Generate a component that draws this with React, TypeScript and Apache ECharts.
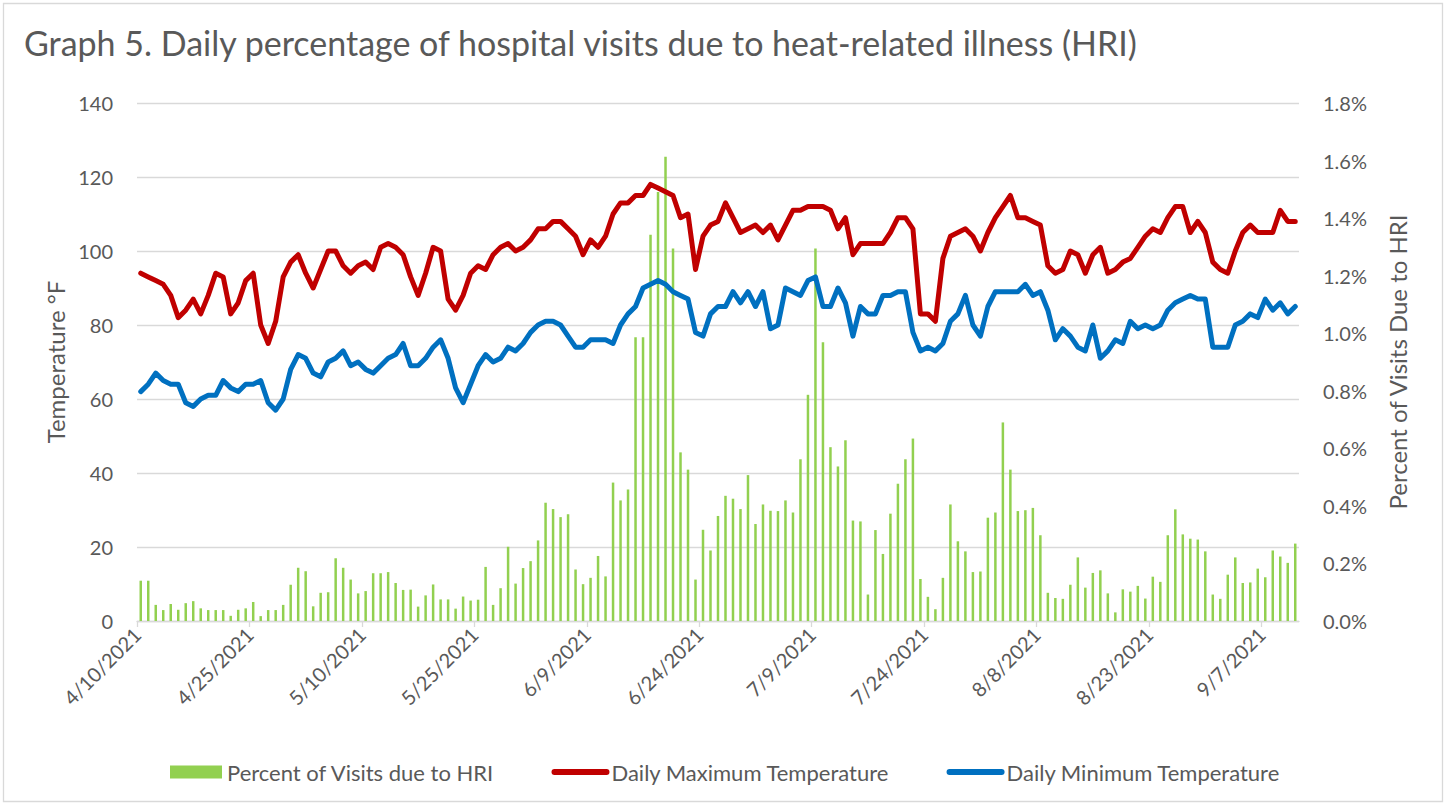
import React, { useEffect, useRef } from "react";
import * as echarts from "echarts";

const tickLabels = ["4/10/2021", "4/25/2021", "5/10/2021", "5/25/2021", "6/9/2021", "6/24/2021", "7/9/2021", "7/24/2021", "8/8/2021", "8/23/2021", "9/7/2021"];
const tickDays = [0, 15, 30, 45, 60, 75, 90, 105, 120, 135, 150];
const dayCount = 155;

const maxTemp = [
  94, 93, 92, 91, 88, 82, 84, 87, 83, 88, 94, 93, 83, 86, 92, 94, 80, 75, 81, 93,
  97, 99, 94, 90, 95, 100, 100, 96, 94, 96, 97, 95, 101, 102, 101, 99, 93, 88, 94, 101,
  100, 87, 84, 88, 94, 96, 95, 99, 101, 102, 100, 101, 103, 106, 106, 108, 108, 106, 104, 99,
  103, 101, 104, 110, 113, 113, 115, 115, 118, 117, 116, 115, 109, 110, 95, 104, 107, 108, 113, 109,
  105, 106, 107, 105, 107, 103, 107, 111, 111, 112, 112, 112, 111, 106, 109, 99, 102, 102, 102, 102,
  105, 109, 109, 106, 83, 83, 81, 98, 104, 105, 106, 104, 100, 105, 109, 112, 115, 109, 109, 108,
  107, 96, 94, 95, 100, 99, 94, 99, 101, 94, 95, 97, 98, 101, 104, 106, 105, 109, 112, 112,
  105, 108, 105, 97, 95, 94, 100, 105, 107, 105, 105, 105, 111, 108, 108,
];

const minTemp = [
  62, 64, 67, 65, 64, 64, 59, 58, 60, 61, 61, 65, 63, 62, 64, 64, 65, 59, 57, 60,
  68, 72, 71, 67, 66, 70, 71, 73, 69, 70, 68, 67, 69, 71, 72, 75, 69, 69, 71, 74,
  76, 71, 63, 59, 64, 69, 72, 70, 71, 74, 73, 75, 78, 80, 81, 81, 80, 77, 74, 74,
  76, 76, 76, 75, 80, 83, 85, 90, 91, 92, 91, 89, 88, 87, 78, 77, 83, 85, 85, 89,
  86, 89, 85, 89, 79, 80, 90, 89, 88, 92, 93, 85, 85, 90, 86, 77, 85, 83, 83, 88,
  88, 89, 89, 78, 73, 74, 73, 75, 81, 83, 88, 80, 77, 85, 89, 89, 89, 89, 91, 88,
  89, 84, 76, 79, 77, 74, 73, 80, 71, 73, 76, 75, 81, 79, 80, 79, 80, 84, 86, 87,
  88, 87, 87, 74, 74, 74, 80, 81, 83, 82, 87, 84, 86, 83, 85,
];

const hriPercent = [
  0.14, 0.14, 0.056, 0.038, 0.059, 0.039, 0.062, 0.069, 0.044, 0.038, 0.038, 0.038, 0.018, 0.039, 0.044, 0.066, 0.017, 0.038, 0.038, 0.056,
  0.126, 0.185, 0.173, 0.051, 0.098, 0.1, 0.218, 0.185, 0.144, 0.096, 0.104, 0.166, 0.166, 0.17, 0.132, 0.108, 0.109, 0.05, 0.089, 0.127,
  0.075, 0.075, 0.043, 0.085, 0.071, 0.074, 0.188, 0.056, 0.114, 0.258, 0.13, 0.184, 0.208, 0.28, 0.411, 0.389, 0.361, 0.371, 0.179, 0.128,
  0.15, 0.226, 0.155, 0.481, 0.419, 0.457, 0.986, 0.986, 1.342, 1.491, 1.613, 1.294, 0.586, 0.526, 0.144, 0.317, 0.245, 0.365, 0.435, 0.425,
  0.389, 0.507, 0.337, 0.405, 0.383, 0.382, 0.419, 0.377, 0.562, 0.786, 1.294, 0.969, 0.604, 0.537, 0.628, 0.349, 0.346, 0.092, 0.316, 0.233,
  0.373, 0.477, 0.562, 0.634, 0.146, 0.084, 0.041, 0.15, 0.405, 0.277, 0.242, 0.17, 0.172, 0.359, 0.377, 0.69, 0.526, 0.382, 0.385, 0.393,
  0.298, 0.098, 0.08, 0.077, 0.126, 0.221, 0.116, 0.167, 0.176, 0.096, 0.03, 0.11, 0.102, 0.122, 0.078, 0.154, 0.136, 0.298, 0.388, 0.301,
  0.286, 0.283, 0.242, 0.092, 0.077, 0.161, 0.221, 0.132, 0.134, 0.182, 0.152, 0.245, 0.224, 0.202, 0.269,
];

const FONT = "Lato, 'Liberation Sans', sans-serif";
const GREY = "#595959";

export default function App() {
  const ref = useRef<HTMLDivElement>(null);
  useEffect(() => {
    if (!ref.current) return;
    const chart = echarts.init(ref.current, undefined, { renderer: "svg" });
    const pts = (arr: number[]) => arr.map((v, i) => [i + 0.5, v]);
    chart.setOption({
      animation: false,
      backgroundColor: "#ffffff",
      textStyle: { fontFamily: FONT },
      title: {
        text: "Graph 5. Daily percentage of hospital visits due to heat-related illness (HRI)",
        left: 19,
        top: 20,
        textStyle: { fontFamily: FONT, fontSize: 34, fontWeight: "normal", color: GREY },
      },
      graphic: [
        {
          type: "rect",
          shape: { x: 3.5, y: 3.5, width: 1439, height: 798 },
          style: { fill: "none", stroke: "#d9d9d9", lineWidth: 1.3 },
          silent: true,
        },
      ],
      legend: {
        left: 165,
        top: 756,
        itemWidth: 52,
        itemHeight: 13,
        itemGap: 57,
        textStyle: { fontFamily: FONT, fontSize: 22, color: GREY },
        data: [
          { name: "Percent of Visits due to HRI", icon: "rect" },
          { name: "Daily Maximum Temperature", itemStyle: { opacity: 0 }, lineStyle: { width: 6, cap: "round" } },
          { name: "Daily Minimum Temperature", itemStyle: { opacity: 0 }, lineStyle: { width: 6, cap: "round" } },
        ],
      },
      grid: { left: 137, right: 148, top: 103, bottom: 185, containLabel: false },
      xAxis: {
        type: "value",
        min: 0,
        max: dayCount,
        axisLine: { show: true, lineStyle: { color: "#d9d9d9", width: 1.3 } },
        axisTick: { show: true, length: 6, lineStyle: { color: "#d9d9d9", width: 1.3 }, customValues: tickDays },
        axisLabel: {
          customValues: tickDays,
          rotate: 45,
          margin: 10,
          fontFamily: FONT,
          fontSize: 20,
          color: GREY,
          formatter: (v: number) => {
            const k = tickDays.indexOf(Math.round(v));
            return k >= 0 ? tickLabels[k] : "";
          },
        },
        splitLine: { show: false },
      },
      yAxis: [
        {
          type: "value",
          min: 0,
          max: 140,
          interval: 20,
          name: "Temperature °F",
          nameLocation: "middle",
          nameRotate: 90,
          nameGap: 70,
          nameTextStyle: { fontFamily: FONT, fontSize: 24, color: GREY },
          axisLine: { show: false },
          axisTick: { show: false },
          axisLabel: { margin: 24, fontFamily: FONT, fontSize: 20, color: GREY },
          splitLine: { show: true, lineStyle: { color: "#d9d9d9", width: 1.3 } },
        },
        {
          type: "value",
          min: 0,
          max: 1.8,
          interval: 0.2,
          position: "right",
          name: "Percent of Visits Due to HRI",
          nameLocation: "middle",
          nameRotate: 90,
          nameGap: 86,
          nameTextStyle: { fontFamily: FONT, fontSize: 24, color: GREY },
          axisLine: { show: false },
          axisTick: { show: false },
          axisLabel: {
            margin: 24,
            fontFamily: FONT,
            fontSize: 20,
            color: GREY,
            formatter: (v: number) => v.toFixed(1) + "%",
          },
          splitLine: { show: false },
        },
      ],
      series: [
        {
          name: "Percent of Visits due to HRI",
          type: "bar",
          yAxisIndex: 1,
          barWidth: 2.5,
          itemStyle: { color: "#92D050" },
          data: pts(hriPercent),
        },
        {
          name: "Daily Maximum Temperature",
          type: "line",
          yAxisIndex: 0,
          symbol: "none",
          lineStyle: { color: "#C00000", width: 5, cap: "round", join: "round" },
          itemStyle: { color: "#C00000" },
          data: pts(maxTemp),
        },
        {
          name: "Daily Minimum Temperature",
          type: "line",
          yAxisIndex: 0,
          symbol: "none",
          lineStyle: { color: "#0070C0", width: 5, cap: "round", join: "round" },
          itemStyle: { color: "#0070C0" },
          data: pts(minTemp),
        },
      ],
    });
    return () => chart.dispose();
  }, []);
  return (
    <div
      ref={ref}
      style={{ position: "absolute", left: 0, top: 0, width: 1447, height: 806 }}
    />
  );
}
